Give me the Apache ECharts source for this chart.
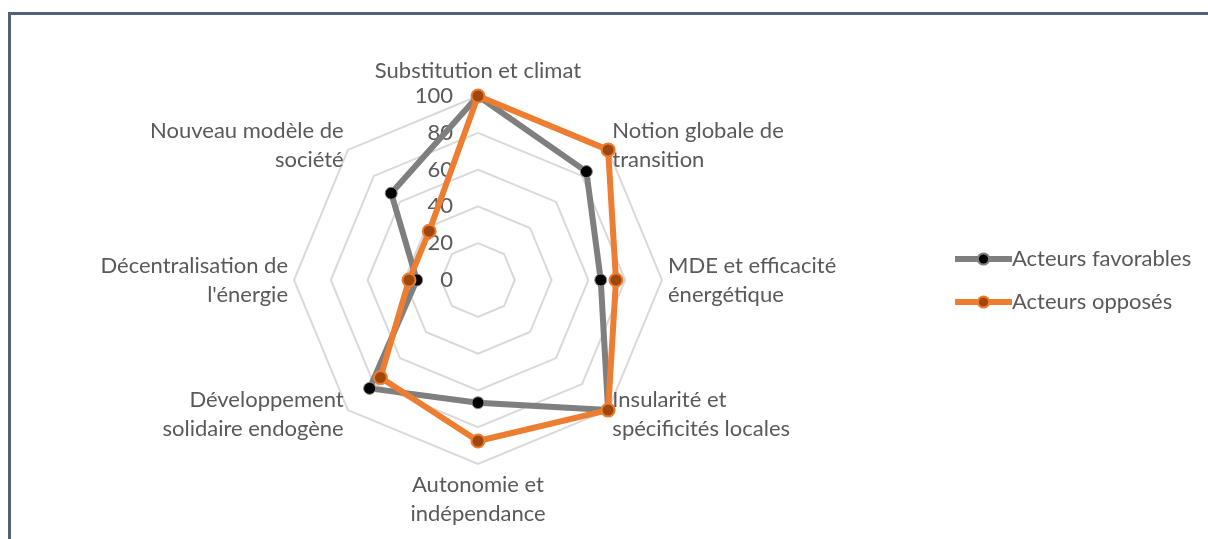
<!DOCTYPE html>
<html>
<head>
<meta charset="utf-8">
<script src="https://cdn.jsdelivr.net/npm/echarts@6/dist/echarts.min.js"></script>
<style>
  html, body { margin: 0; padding: 0; background: #ffffff; }
  #wrap { position: relative; width: 1208px; height: 539px; overflow: hidden; background: #fff; }
  #frame { position: absolute; left: 8px; top: 12px; width: 1400px; height: 800px; border-left: 3px solid #53627a; border-top: 3px solid #53627a; }
  #chart { position: absolute; left: 0; top: 0; width: 1208px; height: 539px; }
</style>
</head>
<body>
<div id="wrap">
  <div id="frame"></div>
  <div id="chart"></div>
</div>
<script>
// Categories in the reference's clockwise order, starting at the top
const categories = [
  'Substitution et climat',
  'Notion globale de\ntransition',
  'MDE et efficacité\nénergétique',
  'Insularité et\nspécificités locales',
  'Autonomie et\nindépendance',
  'Développement\nsolidaire endogène',
  "Décentralisation de\nl'énergie",
  'Nouveau modèle de\nsociété'
];
const favorables = [100, 83.3, 66.7, 100, 66.7, 83.3, 33.3, 66.7];
const opposes = [100, 100, 75, 100, 87.5, 75, 37.5, 37.5];
const seriesNames = ['Acteurs favorables', 'Acteurs opposés'];
const axisMax = 100;

// ECharts places radar indicators counter-clockwise; reorder to draw clockwise
const order = [0].concat(categories.map((_, i) => i).slice(1).reverse());
const reorder = arr => order.map(i => arr[i]);

const FONT = 'Lato';
const TXT = '#595959';

const indicator = reorder(categories).map((name, k) => {
  const o = { name: name, max: axisMax, min: 0 };
  if (k === 0) {
    o.axisLabel = { show: true };
  }
  return o;
});

const chart = echarts.init(document.getElementById('chart'), null, { renderer: 'canvas' });
chart.setOption({
  animation: false,
  backgroundColor: 'transparent',
  grid: { show: false, left: 0, top: 0, width: 10, height: 10 },
  xAxis: { show: false, type: 'category', data: [] },
  yAxis: { show: false, type: 'value' },
  legend: {
    orient: 'vertical',
    left: 947,
    top: 243,
    itemWidth: 57,
    itemHeight: 14,
    itemGap: 21,
    data: seriesNames,
    lineStyle: { width: 'inherit' },
    textStyle: { color: TXT, fontSize: 22, fontFamily: FONT, padding: [0, 0, 0, -5] },
    selectedMode: false
  },
  radar: {
    center: [478, 280],
    radius: 184,
    startAngle: 90,
    splitNumber: 5,
    shape: 'polygon',
    nameGap: 6,
    axisName: { color: TXT, fontSize: 22, fontFamily: FONT, lineHeight: 29 },
    axisLine: { show: false },
    axisTick: { show: false },
    axisLabel: { show: false, color: TXT, fontSize: 22, fontFamily: FONT, margin: 25 },
    splitLine: { lineStyle: { color: '#d9d9d9', width: 2 } },
    splitArea: { show: false },
    indicator: indicator
  },
  series: [
    {
      type: 'line', name: seriesNames[0], data: [],
      symbol: 'circle', symbolSize: 12,
      lineStyle: { color: '#7f7f7f', width: 6 },
      itemStyle: { color: '#000000', borderColor: '#7f7f7f', borderWidth: 1 }
    },
    {
      type: 'line', name: seriesNames[1], data: [],
      symbol: 'circle', symbolSize: 12,
      lineStyle: { color: '#ed7d31', width: 6 },
      itemStyle: { color: '#9e480e', borderColor: '#ed7d31', borderWidth: 2 }
    },
    {
      type: 'radar', name: seriesNames[0],
      symbol: 'circle', symbolSize: 12,
      lineStyle: { color: '#7f7f7f', width: 6 },
      itemStyle: { color: '#000000', borderColor: '#8a8a8a', borderWidth: 1 },
      data: [{ value: reorder(favorables), name: seriesNames[0] }]
    },
    {
      type: 'radar', name: seriesNames[1],
      symbol: 'circle', symbolSize: 13,
      lineStyle: { color: '#ed7d31', width: 6 },
      itemStyle: { color: '#9e480e', borderColor: '#ed7d31', borderWidth: 2 },
      data: [{ value: reorder(opposes), name: seriesNames[1] }]
    }
  ]
});
</script>
</body>
</html>
